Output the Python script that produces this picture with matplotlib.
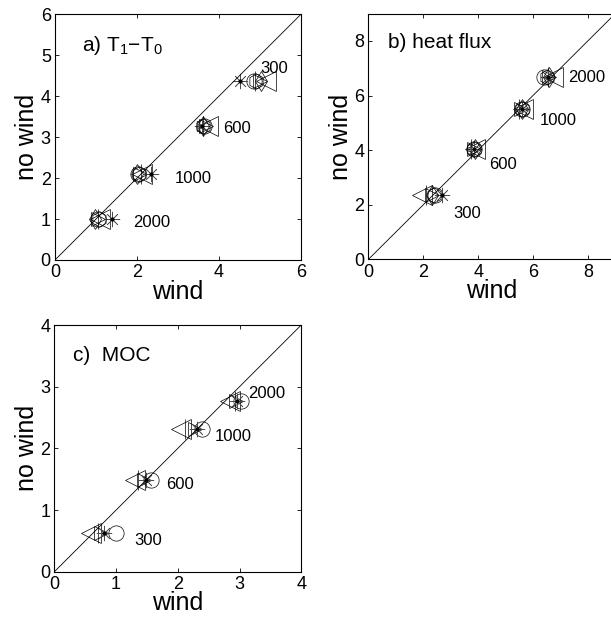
import matplotlib
matplotlib.use("Agg")
import matplotlib.pyplot as plt

plt.rcParams['font.family'] = ['Liberation Sans', 'DejaVu Sans']
plt.rcParams['mathtext.default'] = 'regular'

# cluster labels (resolution)
res_labels = ['300', '600', '1000', '2000']

# panel a) T1-T0 : "no wind" value per cluster, "wind" value per marker
a_nowind = [4.37, 3.26, 2.10, 1.00]
a_star = [4.51, 3.58, 2.35, 1.38]
a_circ = [4.85, 3.64, 2.02, 1.06]
a_left = [5.15, 3.72, 2.12, 1.10]
a_right = [5.00, 3.68, 2.08, 1.04]
a_diam = [5.02, 3.62, 2.00, 0.98]
a_hex = [4.90, 3.60, 2.05, 1.07]
a_bar = [4.88, 3.60, 2.10, 1.05]

# panel b) heat flux
b_nowind = [2.37, 4.06, 5.52, 6.67]
b_star = [2.68, 3.85, 5.60, 6.55]
b_circ = [2.42, 3.85, 5.60, 6.40]
b_left = [1.95, 3.90, 5.65, 6.72]
b_right = [2.30, 3.85, 5.55, 6.60]
b_diam = [2.30, 3.90, 5.60, 6.60]
b_hex = [2.40, 3.85, 5.60, 6.50]
b_bar = [2.10, 3.75, 5.50, 6.55]

# panel c) MOC
c_nowind = [0.63, 1.48, 2.31, 2.77]
c_star = [0.80, 1.48, 2.31, 2.96]
c_circ = [1.00, 1.57, 2.39, 3.03]
c_left = [0.60, 1.30, 2.05, 2.85]
c_right = [0.75, 1.45, 2.28, 2.95]
c_bar = [0.70, 1.36, 2.12, 2.93]

fig = plt.figure(figsize=(6.11, 6.19), dpi=100)
ax_a = fig.add_axes([0.090, 0.580, 0.4026, 0.397])
ax_b = fig.add_axes([0.603, 0.581, 0.404, 0.397])
ax_c = fig.add_axes([0.089, 0.0764, 0.404, 0.3985])


def draw_cluster(ax, y, xs, label_pos):
    star, circ, left, right, bar = xs[:5]
    mk = dict(linestyle='none', color='k', markerfacecolor='none', markeredgewidth=0.5)
    ax.plot(circ, y, marker='o', markersize=11, **mk)
    ax.plot(left, y, marker='<', markersize=14, **mk)
    ax.plot(right, y, marker='>', markersize=10, **mk)
    ax.plot(bar, y, marker='|', markersize=14, **mk)
    ax.plot(star, y, marker=(8, 2, 0), markersize=11, linestyle='none',
            color='0.3', markeredgewidth=0.5)
    ax.plot(star, y, marker='.', markersize=4, linestyle='none', color='k')
    if len(xs) > 5:
        ax.plot(xs[5], y, marker='d', markersize=10, **mk)
        ax.plot(xs[6], y, marker='h', markersize=11, **mk)
    for lab, (tx, ty) in zip(res_labels, label_pos):
        ax.text(tx, ty, lab, fontsize=12, ha='left', va='center')


def style_axes(ax, lim, xticks, yticks, title, tpos):
    ax.plot([0, lim], [0, lim], color='k', linewidth=0.6)
    ax.set_xlim(0, lim)
    ax.set_ylim(0, lim)
    ax.set_xticks(xticks)
    ax.set_yticks(yticks)
    ax.tick_params(direction='in', top=True, right=True, length=3, width=0.6,
                   labelsize=13, pad=3)
    for s in ax.spines.values():
        s.set_linewidth(0.8)
    ax.set_xlabel('wind', fontsize=18, labelpad=-1)
    ax.set_ylabel('no wind', fontsize=18, labelpad=1)
    ax.text(tpos[0], tpos[1], title, fontsize=15, ha='left', va='center')


draw_cluster(ax_a, a_nowind, [a_star, a_circ, a_left, a_right, a_bar, a_diam, a_hex],
             [(5.0, 4.67), (4.09, 3.21), (2.93, 1.98), (1.9, 0.91)])
style_axes(ax_a, 6, [0, 2, 4, 6], [0, 1, 2, 3, 4, 5, 6],
           'a) T$_1$\u2212T$_0$', (0.65, 5.24))

draw_cluster(ax_b, b_nowind, [b_star, b_circ, b_left, b_right, b_bar, b_diam, b_hex],
             [(3.10, 1.68), (4.41, 3.49), (6.24, 5.10), (7.29, 6.66)])
style_axes(ax_b, 9, [0, 2, 4, 6, 8], [0, 2, 4, 6, 8], 'b) heat flux', (0.73, 7.93))

draw_cluster(ax_c, c_nowind, [c_star, c_circ, c_left, c_right, c_bar],
             [(1.30, 0.51), (1.81, 1.41), (2.60, 2.19), (3.14, 2.89)])
style_axes(ax_c, 4, [0, 1, 2, 3, 4], [0, 1, 2, 3, 4], 'c)  MOC', (0.30, 3.50))

fig.savefig('out.png', dpi=100)
